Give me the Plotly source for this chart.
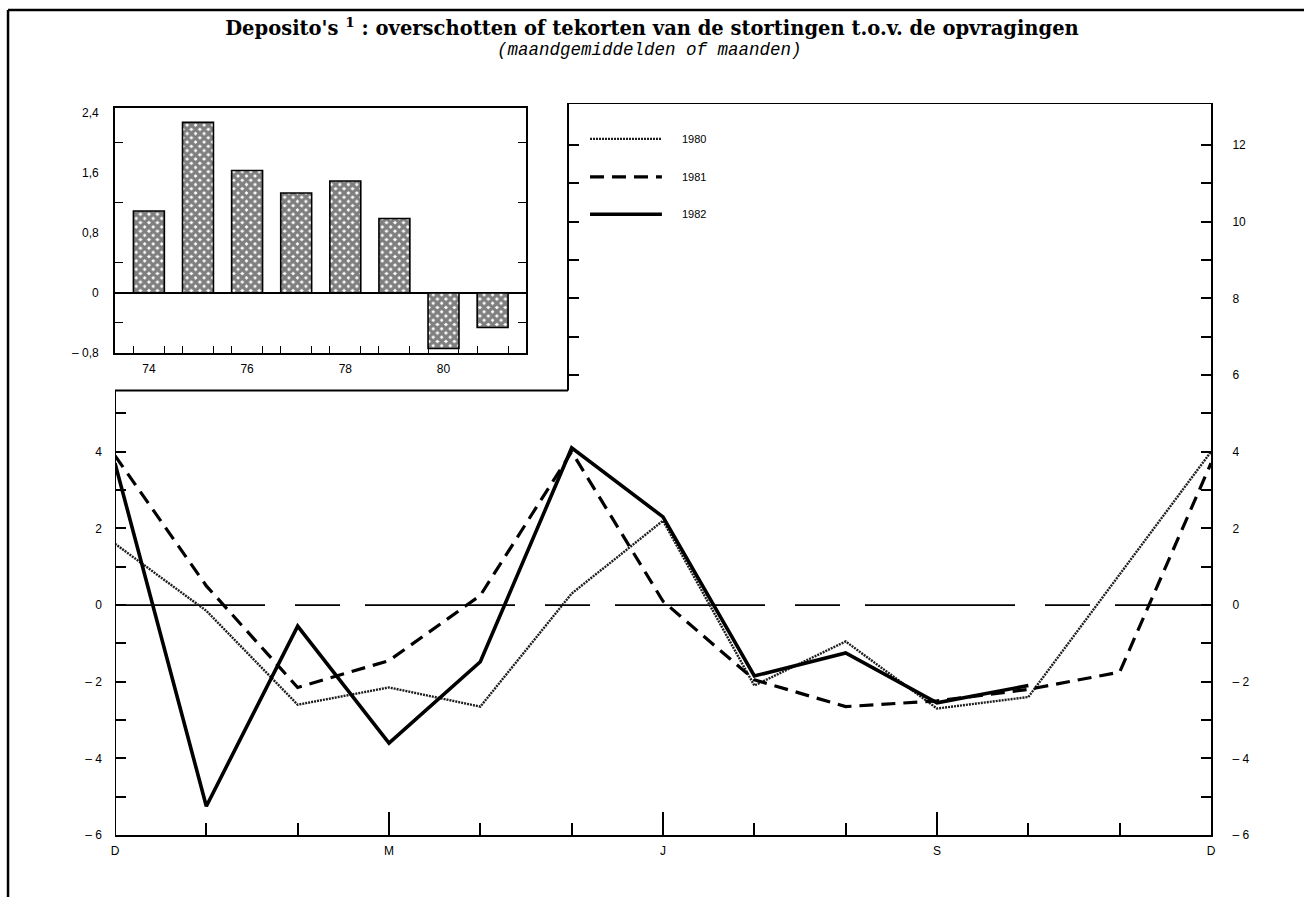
import plotly.graph_objects as go

# ---------------- data ----------------
month_labels = ["D", "J", "F", "M", "A", "M", "J", "J", "A", "S", "O", "N", "D"]
month_pos = list(range(len(month_labels)))
shown_month_idx = [0, 3, 6, 9, 12]

y1980 = [1.6, -0.15, -2.6, -2.15, -2.65, 0.3, 2.2, -2.1, -0.95, -2.7, -2.4, 0.8, 4.0]
y1981 = [3.9, 0.5, -2.15, -1.45, 0.25, 4.0, 0.1, -1.95, -2.65, -2.5, -2.2, -1.75, 3.7]
y1982 = [3.7, -5.25, -0.55, -3.6, -1.48, 4.1, 2.3, -1.85, -1.25, -2.55, -2.1]

inset_years = [74, 75, 76, 77, 78, 79, 80, 81]
inset_values = [1.09, 2.27, 1.63, 1.33, 1.49, 0.99, -0.74, -0.46]
inset_label_years = [74, 76, 78, 80]
inset_ytickvals = [-0.8, 0, 0.8, 1.6, 2.4]
inset_yticktext = ["\u2013 0,8", "0", "0,8", "1,6", "2,4"]
inset_yminor = [-0.4, 0.4, 1.2, 2.0]

left_labelvals = [-6, -4, -2, 0, 2, 4]
left_minorvals = [-5, -3, -1, 1, 3, 5]
right_labelvals = [-6, -4, -2, 0, 2, 4, 6, 8, 10, 12]
right_minorvals = [-5, -3, -1, 1, 3, 5, 7, 9, 11]
frame_tickvals = [6, 7, 8, 9, 10, 11, 12]

series_names = ["1980", "1981", "1982"]


def fmt(v):
    return ("\u2013 " + str(abs(v))) if v < 0 else str(v)


# ---------------- layout constants ----------------
Y_RANGE = [-6, 13.1]
X_RANGE = [0, 12]
FRAME_X = 4.96   # vertical edge of inset frame (main x units)
FRAME_Y = 5.6    # horizontal edge of inset frame (main y units)
BAR_W = 0.63

styles = {
    "1980": dict(color="#1e1e1e", width=2.4, dash="2px,1px"),
    "1981": dict(color="black", width=3.2, dash="14px,8px"),
    "1982": dict(color="black", width=3.6, dash="solid"),
}

fig = go.Figure()

for name, ys in zip(series_names, [y1980, y1981, y1982]):
    fig.add_trace(go.Scatter(
        x=month_pos[:len(ys)], y=ys, mode="lines", name=name,
        line=styles[name], showlegend=False, xaxis="x", yaxis="y",
    ))

# invisible helper traces so the extra (right / frame) axes get drawn
for ax in ["y3", "y4"]:
    fig.add_trace(go.Scatter(x=X_RANGE, y=Y_RANGE, mode="markers", xaxis="x", yaxis=ax,
                             marker=dict(opacity=0, size=1), hoverinfo="skip",
                             showlegend=False))

fig.add_trace(go.Bar(
    x=inset_years, y=inset_values, width=BAR_W, xaxis="x2", yaxis="y2",
    showlegend=False,
    marker=dict(color="white", line=dict(color="black", width=1.6),
                pattern=dict(shape="x", fgcolor="black", bgcolor="white",
                             size=6, solidity=0.8)),
))

tickfont = dict(family="Liberation Sans, Arial, sans-serif", size=12, color="black")

edges = []
for yv in inset_years:
    edges += [yv - BAR_W / 2, yv + BAR_W / 2]

fig.update_layout(
    width=1304, height=897,
    margin=dict(l=115, r=93, t=103, b=62),
    paper_bgcolor="white", plot_bgcolor="white",
    title=dict(
        text="Deposito's <sup>1</sup> : overschotten of tekorten van de stortingen t.o.v. de opvragingen",
        x=0.5, xref="container", xanchor="center", y=1 - 28 / 897, yref="container",
        yanchor="middle",
        font=dict(family="DejaVu Serif, serif", size=19.5, color="black", weight="bold"),
    ),
    xaxis=dict(
        domain=[0, 1], range=X_RANGE, anchor="y",
        showline=True, linecolor="black", linewidth=2,
        showgrid=False, zeroline=False,
        tickmode="array", tickvals=shown_month_idx,
        ticktext=[month_labels[i] for i in shown_month_idx],
        ticks="inside", ticklen=23, tickwidth=1.5, tickcolor="black",
        minor=dict(tickmode="array", tickvals=month_pos, ticks="inside",
                   ticklen=12, tickwidth=1.5, tickcolor="black"),
        tickfont=tickfont, ticklabelstandoff=4,
    ),
    yaxis=dict(
        domain=[0, 1], range=Y_RANGE, anchor="x",
        showline=False, showgrid=False, zeroline=False,
        tickmode="array", tickvals=left_labelvals,
        ticktext=[fmt(v) for v in left_labelvals],
        ticks="inside", ticklen=11, tickwidth=1.5, tickcolor="black",
        minor=dict(tickmode="array", tickvals=left_minorvals, ticks="inside",
                   ticklen=11, tickwidth=1.5, tickcolor="black"),
        tickfont=tickfont, ticklabelstandoff=12,
    ),
    yaxis3=dict(
        overlaying="y", side="right", anchor="x", range=Y_RANGE,
        showline=True, linecolor="black", linewidth=2,
        showgrid=False, zeroline=False,
        tickmode="array", tickvals=right_labelvals,
        ticktext=[fmt(v) for v in right_labelvals],
        ticks="inside", ticklen=10, tickwidth=1.5, tickcolor="black",
        minor=dict(tickmode="array", tickvals=right_minorvals, ticks="inside",
                   ticklen=10, tickwidth=1.5, tickcolor="black"),
        tickfont=tickfont, ticklabelstandoff=17,
    ),
    yaxis4=dict(
        overlaying="y", side="left", anchor="free", position=FRAME_X / X_RANGE[1],
        range=Y_RANGE, showline=False, showgrid=False, zeroline=False,
        tickmode="array", tickvals=frame_tickvals, showticklabels=False,
        ticks="inside", ticklen=10, tickwidth=1.5, tickcolor="black",
    ),
    xaxis2=dict(
        domain=[0, 0.375], range=[73.31, 81.68], anchor="y2",
        showline=True, mirror=True, linecolor="black", linewidth=1.6,
        showgrid=False, zeroline=False,
        tickmode="array", tickvals=inset_label_years,
        ticktext=[str(v) for v in inset_label_years], ticks="",
        minor=dict(tickmode="array", tickvals=edges, ticks="inside",
                   ticklen=7, tickwidth=1.2, tickcolor="black"),
        tickfont=tickfont, ticklabelstandoff=4,
    ),
    yaxis2=dict(
        domain=[0.6585, 0.993], range=[-0.8, 2.46], anchor="x2",
        showline=True, mirror="ticks", linecolor="black", linewidth=1.6,
        showgrid=False, zeroline=True, zerolinecolor="black", zerolinewidth=2,
        tickmode="array", tickvals=inset_ytickvals, ticktext=inset_yticktext,
        ticks="",
        minor=dict(tickmode="array", tickvals=inset_yminor, ticks="inside",
                   ticklen=8, tickwidth=1.2, tickcolor="black"),
        tickfont=tickfont, ticklabelstandoff=12,
    ),
)

line_k = dict(color="black", width=2)
shapes = [
    # zero reference line
    dict(type="line", xref="x", yref="y", x0=X_RANGE[0], x1=X_RANGE[1], y0=0, y1=0,
         line=dict(color="black", width=1.8, dash="150px,30px,45px,25px"), layer="below"),
    # left axis of main plot (up to inset frame)
    dict(type="line", xref="x", yref="y", x0=0, x1=0, y0=Y_RANGE[0], y1=FRAME_Y, line=line_k),
    # inset frame bottom
    dict(type="line", xref="x", yref="y", x0=0, x1=FRAME_X, y0=FRAME_Y, y1=FRAME_Y, line=line_k),
    # inset frame right edge
    dict(type="line", xref="x", yref="y", x0=FRAME_X, x1=FRAME_X, y0=FRAME_Y, y1=Y_RANGE[1], line=line_k),
    # top edge of the upper-right box
    dict(type="line", xref="x", yref="y", x0=FRAME_X, x1=X_RANGE[1], y0=Y_RANGE[1], y1=Y_RANGE[1], line=line_k),
    # page frame
    dict(type="line", xref="paper", yref="paper", x0=-0.0976, x1=1.1, y0=1.127, y1=1.127,
         line=dict(color="black", width=2.5)),
    dict(type="line", xref="paper", yref="paper", x0=-0.0976, x1=-0.0976, y0=-0.1, y1=1.127,
         line=dict(color="black", width=2.5)),
]

# manual legend (long line samples)
legend_y = [0.951, 0.899, 0.848]
annotations = [
    dict(text="<i>(maandgemiddelden of maanden)</i>", xref="paper", yref="paper",
         x=0.488, y=1.0724, xanchor="center", yanchor="middle", showarrow=False,
         font=dict(family="Liberation Mono, monospace", size=17.5, color="black")),
]
for name, ly in zip(series_names, legend_y):
    st = styles[name]
    shapes.append(dict(type="line", xref="paper", yref="paper", x0=0.4334, x1=0.499,
                       y0=ly, y1=ly, line=dict(color=st["color"], width=st["width"], dash=st["dash"])))
    annotations.append(dict(text=name, xref="paper", yref="paper", x=0.5155, y=ly,
                            xanchor="left", yanchor="middle", showarrow=False,
                            font=dict(family="Liberation Sans, Arial, sans-serif", size=11, color="black")))

fig.update_layout(shapes=shapes, annotations=annotations)

fig.write_html("out.html", config={"displayModeBar": False},
               post_script="document.body.style.margin='0';")
